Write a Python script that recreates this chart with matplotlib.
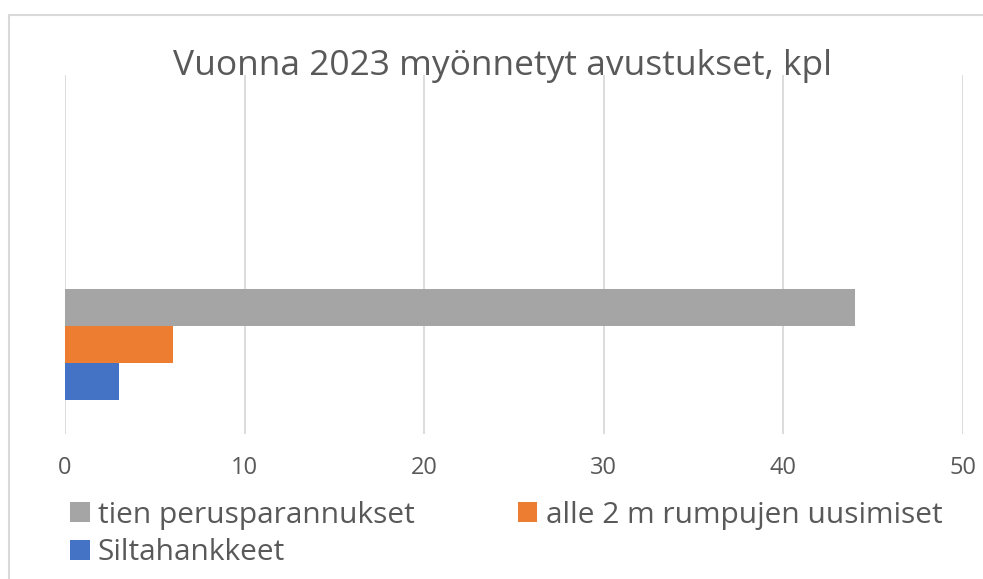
import matplotlib.pyplot as plt
from matplotlib.patches import Rectangle

plt.rcParams['font.family'] = ['Open Sans', 'DejaVu Sans']

# data
series = ['tien perusparannukset', 'alle 2 m rumpujen uusimiset', 'Siltahankkeet']
values = [44, 6, 3]
colors = ['#A5A5A5', '#ED7D31', '#4472C4']
x_ticks = [0, 10, 20, 30, 40, 50]

fig = plt.figure(figsize=(9.83, 5.79), dpi=100)
ax = fig.add_axes([0.0661, 0.2504, 0.9136, 0.6201])

# one category group, an empty band above it (Excel style)
bar_h = 0.206
for i, (name, v, c) in enumerate(zip(series, values, colors)):
    ax.barh(bar_h * (1 - i), v, height=bar_h, color=c, label=name, zorder=3)

ax.set_xlim(0, 50)
ax.set_ylim(-0.5, 1.5)
ax.set_xticks(x_ticks)
ax.set_yticks([])
ax.grid(axis='x', color='#D9D9D9', linewidth=1.3, zorder=0)
for s in ax.spines.values():
    s.set_visible(False)
ax.tick_params(axis='x', length=0, pad=16, labelsize=17, labelcolor='#595959')

fig.text(0.511, 0.886, 'Vuonna 2023 myönnetyt avustukset, kpl', ha='center', va='center',
         fontsize=25.5, color='#595959')

# legend rows: gray, orange / blue
h, l = ax.get_legend_handles_labels()
order = [0, 2, 1]
fig.legend([h[i] for i in order], [l[i] for i in order], ncol=2, frameon=False,
           loc='upper left', bbox_to_anchor=(0.071, 0.135), fontsize=21.5,
           labelcolor='#595959', handlelength=0.66, handleheight=0.66, handletextpad=0.28,
           columnspacing=3.45, labelspacing=0.28, borderaxespad=0, borderpad=0)

# chart border
fig.patches.append(Rectangle((9 / 983, -0.1), 1.2, 1 - 15 / 579 + 0.1, transform=fig.transFigure,
                             fill=False, edgecolor='#D9D9D9', linewidth=1.5))

fig.savefig('out.png', dpi=100)
